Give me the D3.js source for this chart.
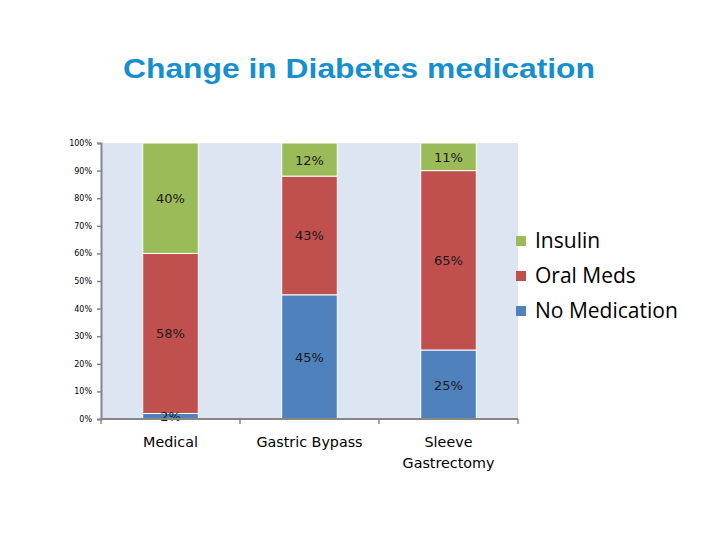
<!DOCTYPE html>
<html><head><meta charset="utf-8">
<script src="https://cdn.jsdelivr.net/npm/d3@7"></script>
<style>body{margin:0;background:#fff}svg{display:block}</style>
</head><body><svg id="c" width="720" height="540"></svg>
<script>
const categories = ["Medical", "Gastric Bypass", "Sleeve Gastrectomy"];
const categoryLines = [["Medical"], ["Gastric Bypass"], ["Sleeve", "Gastrectomy"]];
const seriesNames = ["No Medication", "Oral Meds", "Insulin"];
const noMedication = [2, 45, 25];
const oralMeds = [58, 43, 65];
const insulin = [40, 12, 11];
const colors = ["#4f81bd", "#c0504d", "#9bbb59"];
const yTicks = [0, 10, 20, 30, 40, 50, 60, 70, 80, 90, 100];

const svg = d3.select("#c");
const L = 101, R = 518, T = 143, B = 419;

const x = d3.scaleBand().domain(categories).range([L, R]).paddingInner(0.6).paddingOuter(0.3);
const y = d3.scaleLinear().domain([0, 100]).range([B, T]).clamp(true);

svg.append("text").attr("x", 123).attr("y", 78)
  .attr("textLength", 472).attr("lengthAdjust", "spacingAndGlyphs")
  .style("font-family", "Liberation Sans, Arial").style("font-weight", "bold").style("font-size", "27px")
  .attr("fill", "#168fcf").text("Change in Diabetes medication");

svg.append("rect").attr("x", L).attr("y", T).attr("width", R - L).attr("height", B - T).attr("fill", "#dce6f2");

const table = categories.map((c, i) => ({cat: c, "No Medication": noMedication[i], "Oral Meds": oralMeds[i], "Insulin": insulin[i]}));
const stack = d3.stack().keys(seriesNames)(table);

const g = svg.append("g");
stack.forEach((s, si) => {
  g.selectAll(null).data(s).enter().append("rect")
    .attr("x", d => x(d.data.cat)).attr("width", x.bandwidth())
    .attr("y", d => y(d[1])).attr("height", d => y(d[0]) - y(d[1]))
    .attr("fill", colors[si]).attr("stroke", "#fff").attr("stroke-width", 1);
});
stack.forEach((s, si) => {
  g.selectAll(null).data(s).enter().append("text")
    .attr("x", d => x(d.data.cat) + x.bandwidth() / 2)
    .attr("y", d => (y(d[0]) + y(d[1])) / 2 + 5)
    .attr("text-anchor", "middle")
    .style("font-family", "DejaVu Sans").style("font-size", "13px").attr("fill", "#1a1a1a")
    .text(d => (d[1] - d[0]) + "%");
});

// axes
const yAxis = d3.axisLeft(y).tickValues(yTicks).tickFormat(d => d + "%").tickSize(4).tickPadding(5);
const ya = svg.append("g").attr("transform", `translate(${L},0)`).call(yAxis);
ya.select(".domain").attr("stroke", "#868686").attr("stroke-width", 2);
ya.selectAll(".tick line").attr("stroke", "#868686").attr("stroke-width", 1.5);
ya.selectAll(".tick text").style("font-family", "DejaVu Sans").style("font-size", "8px").attr("fill", "#000").attr("x", -9);

const xa = svg.append("g").attr("transform", `translate(0,${B})`);
xa.append("line").attr("x1", L).attr("x2", R).attr("stroke", "#868686").attr("stroke-width", 2);
const edges = [L, L + (R - L) / 3, L + 2 * (R - L) / 3, R];
xa.selectAll(null).data(edges).enter().append("line")
  .attr("x1", d => d).attr("x2", d => d).attr("y1", 0).attr("y2", 5).attr("stroke", "#868686").attr("stroke-width", 1.5);
categories.forEach((c, i) => {
  const t = xa.append("text").attr("text-anchor", "middle")
    .style("font-family", "DejaVu Sans").style("font-size", "14.3px").attr("fill", "#000");
  categoryLines[i].forEach((ln, k) => {
    t.append("tspan").attr("x", x(c) + x.bandwidth() / 2).attr("y", 28 + k * 21).text(ln);
  });
});

// legend
const legendOrder = ["Insulin", "Oral Meds", "No Medication"];
const lg = svg.append("g");
legendOrder.forEach((n, i) => {
  const yy = 241 + i * 35;
  lg.append("rect").attr("x", 516).attr("y", yy - 5).attr("width", 10).attr("height", 10)
    .attr("fill", colors[seriesNames.indexOf(n)]);
  lg.append("text").attr("x", 535).attr("y", yy + 7)
    .style("font-family", "Open Sans").style("font-size", "21px").attr("fill", "#000").text(n);
});
</script></body></html>
